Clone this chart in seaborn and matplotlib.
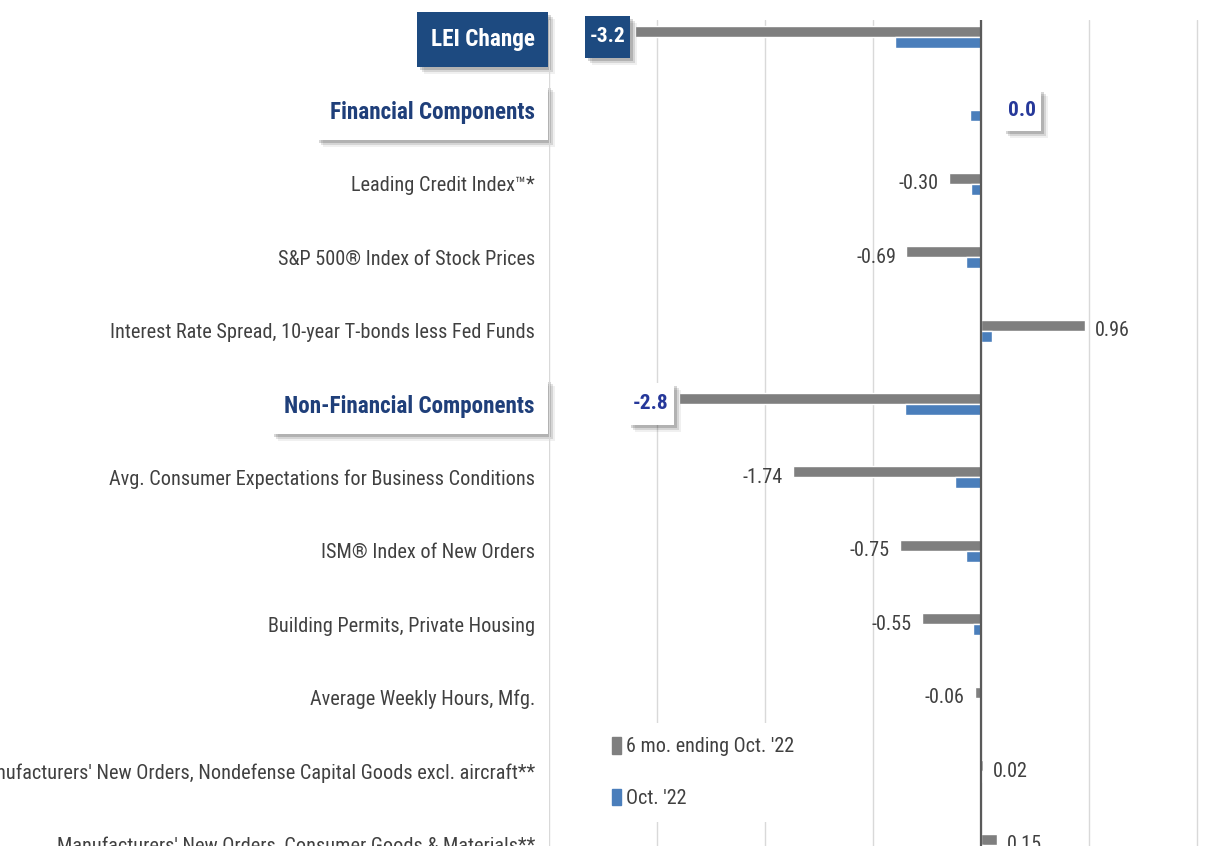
import os
import glob
import numpy as np
import pandas as pd
import matplotlib
matplotlib.use("Agg")
import matplotlib.pyplot as plt
import matplotlib.transforms as mtransforms
from matplotlib import font_manager as fm
from matplotlib.patches import Patch, Rectangle
import seaborn as sns

# ---- data -------------------------------------------------------------
components = [
    "LEI Change",
    "Financial Components",
    "Leading Credit Index\u2122*",
    "S&P 500\u00ae Index of Stock Prices",
    "Interest Rate Spread, 10-year T-bonds less Fed Funds",
    "Non-Financial Components",
    "Avg. Consumer Expectations for Business Conditions",
    "ISM\u00ae Index of New Orders",
    "Building Permits, Private Housing",
    "Average Weekly Hours, Mfg.",
    "Manufacturers' New Orders, Nondefense Capital Goods excl. aircraft**",
    "Manufacturers' New Orders, Consumer Goods & Materials**",
]
six_month = [-3.2, 0.0, -0.30, -0.69, 0.96, -2.8, -1.74, -0.75, -0.55, -0.06, 0.02, 0.15]
october = [-0.80, -0.10, -0.09, -0.14, 0.10, -0.70, -0.24, -0.14, -0.07, -0.01, 0.01, 0.02]
series_names = ["6 mo. ending Oct. '22", "Oct. '22"]
header_rows = [0, 1, 5]

# ---- style ------------------------------------------------------------
GRAY = "#7f7f7f"
BLUE = "#4a7ebb"
NAVY = "#1d4a80"
HEAD_TXT = "#1f3f7a"
CALL_TXT = "#26389a"
TXT = "#404040"

sns.set_theme(style="white")
plt.rcParams["font.family"] = ["Liberation Sans", "DejaVu Sans"]

# pick a condensed sans face (regular + bold) if one is installed
font_files = {f.fname for f in fm.fontManager.ttflist}
font_files |= set(glob.glob("/usr/share/fonts/**/*.[ot]tf", recursive=True))
by_stem = {}
for path in font_files:
    stem = os.path.splitext(os.path.basename(path))[0].lower()
    stem = stem.replace("-", "").replace("_", "").replace(" ", "")
    by_stem.setdefault(stem, path)

condensed_pairs = [
    ("liberationsansnarrowregular", "liberationsansnarrowbold"),
    ("robotocondensedregular", "robotocondensedbold"),
    ("notosanscondensed", "notosanscondensedbold"),
    ("notosanscondensedregular", "notosanscondensedbold"),
    ("opensanscondensedregular", "opensanscondensedbold"),
    ("dejavusanscondensed", "dejavusanscondensedbold"),
]
FP_REG = fm.FontProperties(family="Liberation Sans")
FP_BOLD = fm.FontProperties(family="Liberation Sans", weight="bold")
for reg, bold in condensed_pairs:
    if reg in by_stem and bold in by_stem:
        FP_REG = fm.FontProperties(fname=by_stem[reg])
        FP_BOLD = fm.FontProperties(fname=by_stem[bold])
        break

n = len(components)
df = pd.DataFrame({
    "component": components * 2,
    "series": [series_names[0]] * n + [series_names[1]] * n,
    "value": six_month + october,
})

W, H = 1205, 846
AX_LEFT = 549
fig = plt.figure(figsize=(W / 100, H / 100), dpi=100)
ax = fig.add_axes([AX_LEFT / W, 0, (W - AX_LEFT) / W, 1 - 20 / H])
renderer = fig.canvas.get_renderer()


def sized(fp, sample, width_px):
    p = fp.copy()
    p.set_size(10)
    w, _, _ = renderer.get_text_width_height_descent(sample, p, ismath=False)
    q = fp.copy()
    q.set_size(10 * width_px / w)
    return q


fp_cat = sized(FP_REG, components[4], 420)
fp_head = sized(FP_BOLD, components[1], 205)
fp_val = sized(FP_REG, series_names[0], 167)
fp_call = sized(FP_BOLD, "-3.2", 36)

sns.barplot(data=df, y="component", x="value", hue="series", orient="h",
            palette={series_names[0]: GRAY, series_names[1]: BLUE},
            width=0.3, saturation=1, legend=False, ax=ax, zorder=2)

ax.set_xlim(-4, (W - 981) / 108)
ax.set_ylim(n - 0.98, -0.23)
ax.set_xticks(range(-4, 3))
ax.set_xticklabels([])
ax.set_xlabel("")
ax.set_ylabel("")
ax.tick_params(axis="x", length=0)
ax.xaxis.grid(True, color="#d9d9d9", lw=1.0)
ax.set_axisbelow(True)
for sp in ax.spines.values():
    sp.set_visible(False)
ax.axvline(0, color="#5a5a5a", lw=1.6, zorder=3)

# ---- category labels -------------------------------------------------
PAD_PX = 14
ax.tick_params(axis="y", length=0, pad=PAD_PX * 0.72)
for i, lab in enumerate(ax.get_yticklabels()):
    if i in header_rows:
        lab.set_fontproperties(fp_head)
        lab.set_color("white" if i == 0 else HEAD_TXT)
    else:
        lab.set_fontproperties(fp_cat)
        lab.set_color(TXT)

# ---- value labels ----------------------------------------------------
callouts = {}
for i, v in enumerate(six_month):
    if i in header_rows:
        off = 27 if v >= 0 else -10
        callouts[i] = ax.annotate(f"{v:.1f}", xy=(v, i), xytext=(off, 0), textcoords="offset pixels",
                                  ha="left" if v >= 0 else "right", va="center",
                                  fontproperties=fp_call, color="white" if i == 0 else CALL_TXT,
                                  zorder=5, annotation_clip=False)
    else:
        ax.annotate(f"{v:.2f}", xy=(v, i), xytext=(10 if v >= 0 else -10, 0),
                    textcoords="offset pixels", ha="left" if v >= 0 else "right",
                    va="center", fontproperties=fp_val, color=TXT, zorder=5,
                    annotation_clip=False)

# ---- legend ----------------------------------------------------------
handles = [Patch(color=GRAY), Patch(color=BLUE)]
ax.legend(handles, series_names, loc="upper left", bbox_to_anchor=(598 / W, 1 - 723 / H),
          bbox_transform=fig.transFigure, frameon=True, facecolor="white", edgecolor="none",
          framealpha=1, prop=fp_val, labelcolor=TXT, handlelength=0.45, handleheight=0.9,
          handletextpad=0.25, labelspacing=1.6, borderpad=0.7, borderaxespad=0)

# ---- boxes with drop shadows behind the header labels and callouts --
fig.canvas.draw()
ident = mtransforms.IdentityTransform()


def shadowed_box(x, y, w, h, fc, z):
    for dx, dy, a in [(3, -3, 0.16), (5, -5, 0.11), (7, -7, 0.06)]:
        ax.add_artist(Rectangle((x + dx, y + dy), w, h, transform=ident, fc="black",
                                ec="none", alpha=a, zorder=z - 0.01, clip_on=False))
    ax.add_artist(Rectangle((x, y), w, h, transform=ident, fc=fc, ec="none",
                            zorder=z, clip_on=False))


ylabels = ax.get_yticklabels()
for i in header_rows:
    bb = ylabels[i].get_window_extent(renderer)
    yc = 0.5 * (bb.y0 + bb.y1)
    x0 = bb.x0 - 14
    shadowed_box(x0, yc - 27.5, (AX_LEFT - 1) - x0, 55, NAVY if i == 0 else "white", 0.3)

for i, t in callouts.items():
    bb = t.get_window_extent(renderer)
    yc = 0.5 * (bb.y0 + bb.y1)
    shadowed_box(bb.x0 - 5, yc - 21, bb.width + 10, 42, NAVY if i == 0 else "white", 4)

fig.savefig("out.png", dpi=100)
